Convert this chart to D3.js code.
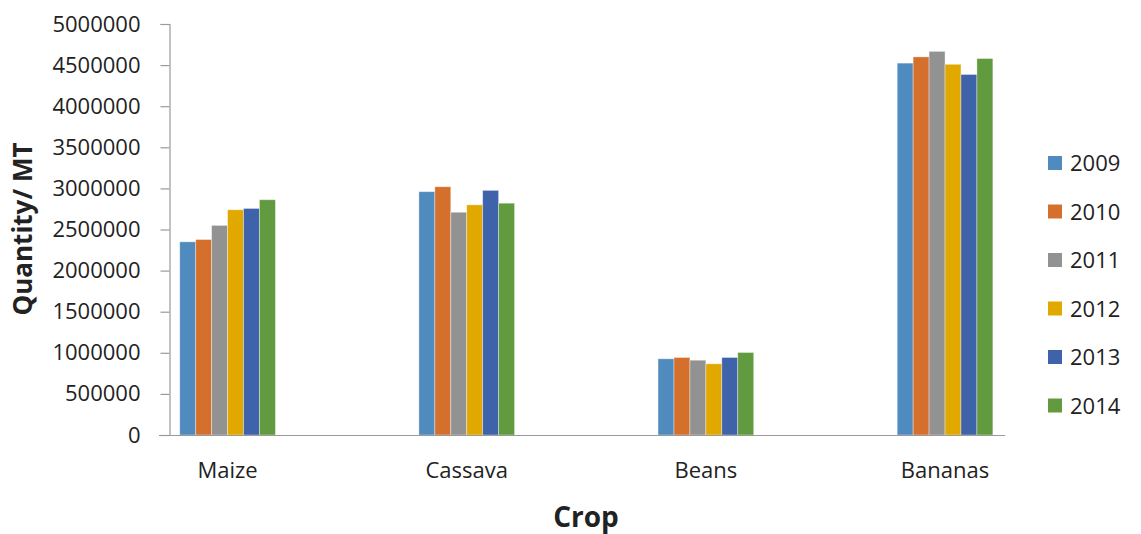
<!DOCTYPE html>
<html>
<head>
<meta charset="utf-8">
<script src="https://cdn.jsdelivr.net/npm/d3@7"></script>
<style>
  html, body { margin: 0; padding: 0; background: #fff; }
  svg { display: block; }
  text { font-family: "Open Sans", "Lato", sans-serif; fill: #222; }
</style>
</head>
<body>
<svg id="chart" width="1141" height="534"></svg>
<script>
// Crop production by year (metric tonnes)
const crops = ["Maize", "Cassava", "Beans", "Bananas"];
const years = ["2009", "2010", "2011", "2012", "2013", "2014"];
const v2009 = [2350000, 2960000, 927000, 4524000];
const v2010 = [2378000, 3020000, 943000, 4600000];
const v2011 = [2550000, 2710000, 910000, 4667000];
const v2012 = [2740000, 2800000, 866000, 4510000];
const v2013 = [2756000, 2976000, 943000, 4386000];
const v2014 = [2862000, 2820000, 1004000, 4580000];
const yTicks = [0, 500000, 1000000, 1500000, 2000000, 2500000, 3000000, 3500000, 4000000, 4500000, 5000000];
const colors = ["#508bbf", "#d5702c", "#929292", "#e1a900", "#3f63ab", "#629b3f"];

const seriesValues = [v2009, v2010, v2011, v2012, v2013, v2014];
const rows = crops.map((c, i) => ({
  crop: c,
  values: years.map((y, k) => ({ year: y, value: seriesValues[k][i] }))
}));

const svg = d3.select("#chart");

const y = d3.scaleLinear().domain([0, 5000000]).range([435, 24]);
const x0 = d3.scaleBand().domain(crops).range([108, 1064.6]).paddingInner(0.6).paddingOuter(0.3);
const x1 = d3.scaleBand().domain(years).range([0, x0.bandwidth()]);
const color = d3.scaleOrdinal().domain(years).range(colors);

// Y axis
const yAxis = svg.append("g").attr("transform", "translate(169.5,0)")
  .call(d3.axisLeft(y).tickValues(yTicks).tickSize(9).tickPadding(20).tickFormat(d3.format("d")));
yAxis.select(".domain").attr("stroke", "#9a9a9a").attr("stroke-width", 1.2);
yAxis.selectAll(".tick line").attr("stroke", "#9a9a9a").attr("stroke-width", 1.2);
yAxis.selectAll(".tick text").attr("font-size", 22).attr("fill", "#222")
  .style("font-family", "'Open Sans', sans-serif");

// Bars
const groups = svg.append("g").selectAll("g").data(rows).join("g")
  .attr("transform", d => `translate(${x0(d.crop)},0)`);
groups.selectAll("rect").data(d => d.values).join("rect")
  .attr("x", d => x1(d.year))
  .attr("y", d => y(d.value))
  .attr("width", x1.bandwidth())
  .attr("height", d => y(0) - y(d.value))
  .attr("fill", d => color(d.year))
  .attr("stroke", "rgba(255,255,255,0.45)")
  .attr("stroke-width", 0.8);

// X axis line
svg.append("line").attr("x1", 159).attr("x2", 1005).attr("y1", 435.5).attr("y2", 435.5)
  .attr("stroke", "#9a9a9a").attr("stroke-width", 1.2);

// Category labels
svg.append("g").selectAll("text").data(crops).join("text")
  .attr("x", d => x0(d) + x0.bandwidth() / 2)
  .attr("y", 478)
  .attr("text-anchor", "middle")
  .attr("font-size", 22)
  .text(d => d);

// Axis titles
svg.append("text").attr("x", 586).attr("y", 527).attr("text-anchor", "middle")
  .attr("font-size", 28).attr("font-weight", "bold").attr("fill", "#111").text("Crop");
svg.append("text").attr("transform", "translate(32,229) rotate(-90)").attr("text-anchor", "middle")
  .attr("font-size", 26).attr("font-weight", "bold").attr("fill", "#111").text("Quantity/ MT");

// Legend
const legend = svg.append("g").selectAll("g").data(years).join("g")
  .attr("transform", (d, i) => `translate(1048,${163 + i * 48.5})`);
legend.append("rect").attr("x", 0).attr("y", -7).attr("width", 14).attr("height", 14)
  .attr("fill", d => color(d));
legend.append("text").attr("x", 22).attr("y", 8).attr("font-size", 22).text(d => d);
</script>
</body>
</html>
